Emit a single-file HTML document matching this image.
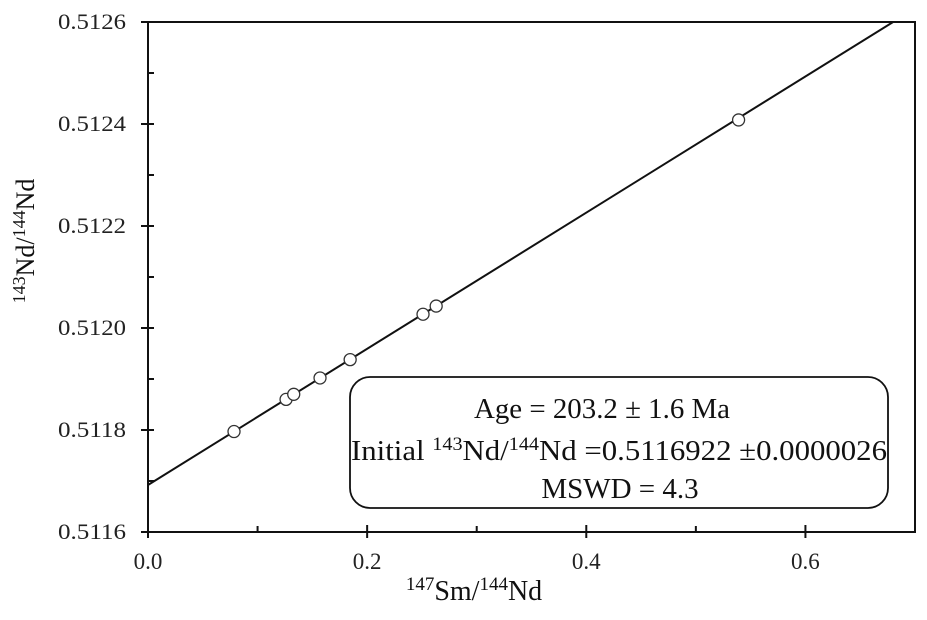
<!DOCTYPE html>
<html><head><meta charset="utf-8"><style>
html,body{margin:0;padding:0;background:#fff;}
svg{display:block;font-family:"Liberation Serif",serif;}
</style></head><body>
<svg id="chart" width="927" height="620" viewBox="0 0 927 620">
  <g id="axes"></g>
  <g id="marks"></g>
  <g>
    <rect x="350" y="377" width="538" height="131" rx="20" ry="20" fill="#fff" stroke="#111" stroke-width="1.8"/>
    <text x="602" y="418" font-size="29" text-anchor="middle" fill="#111" textLength="256" lengthAdjust="spacingAndGlyphs">Age = 203.2 ± 1.6 Ma</text>
    <text x="351" y="460" font-size="29" fill="#111" textLength="536" lengthAdjust="spacingAndGlyphs">Initial <tspan font-size="19" dy="-10">143</tspan><tspan dy="10">Nd/</tspan><tspan font-size="19" dy="-10">144</tspan><tspan dy="10">Nd =0.5116922 ±0.0000026</tspan></text>
    <text x="620" y="498" font-size="29" text-anchor="middle" fill="#111">MSWD = 4.3</text>
  </g>
  <text x="474" y="600" font-size="28" text-anchor="middle" fill="#111"><tspan font-size="19" dy="-10">147</tspan><tspan dy="10">Sm/</tspan><tspan font-size="19" dy="-10">144</tspan><tspan dy="10">Nd</tspan></text>
  <text transform="translate(34,241) rotate(-90)" font-size="26" text-anchor="middle" fill="#111"><tspan font-size="18" dy="-9">143</tspan><tspan dy="9">Nd/</tspan><tspan font-size="18" dy="-9">144</tspan><tspan dy="9">Nd</tspan></text>
</svg>
<script>
const xTicks = [0.0, 0.2, 0.4, 0.6];
const xTickLabels = ["0.0", "0.2", "0.4", "0.6"];
const yTicks = [0.5116, 0.5118, 0.5120, 0.5122, 0.5124, 0.5126];
const yTickLabels = ["0.5116", "0.5118", "0.5120", "0.5122", "0.5124", "0.5126"];
const smNd = [0.0785, 0.126, 0.133, 0.157, 0.1845, 0.251, 0.263, 0.539];
const ndNd = [0.511797, 0.511860, 0.511870, 0.511902, 0.511938, 0.512027, 0.512043, 0.512408];
const intercept = [0.5116922];
const slope = [0.001335];

const L=148, R=915, T=22, B=532;
const xMin=0, xMax=0.7, yMin=0.5116, yMax=0.5126;
const sx = v => L + (v - xMin) / (xMax - xMin) * (R - L);
const sy = v => B - (v - yMin) / (yMax - yMin) * (B - T);
const NS='http://www.w3.org/2000/svg';
const axes=document.getElementById('axes'), marks=document.getElementById('marks');
function mk(tag, attrs, parent){const e=document.createElementNS(NS,tag);for(const k in attrs)e.setAttribute(k,attrs[k]);parent.appendChild(e);return e;}

let frame = mk('rect',{x:L,y:T,width:R-L,height:B-T,fill:'none',stroke:'#111','stroke-width':2},axes);



yTicks.forEach((v,i)=>{
  const y=sy(v);
  let t=mk('line',{x1:L-7,x2:L+6,y1:y,y2:y,stroke:'#111','stroke-width':2},axes);
  
  
  let lb=mk('text',{x:L-22,y:y+7,'font-size':22,'text-anchor':'end',fill:'#222',textLength:68,lengthAdjust:'spacingAndGlyphs'},axes);
  lb.textContent=yTickLabels[i];
  
  
  if(i<yTicks.length-1){
    const ym=sy(v+(yTicks[1]-yTicks[0])/2);
    let m=mk('line',{x1:L,x2:L+6,y1:ym,y2:ym,stroke:'#111','stroke-width':2},axes);
    
    
  }
});
xTicks.forEach((v,i)=>{
  const x=sx(v);
  let t=mk('line',{x1:x,x2:x,y1:B-7,y2:B+6,stroke:'#111','stroke-width':2},axes);
  
  
  let lb=mk('text',{x:x,y:B+37,'font-size':23,'text-anchor':'middle',fill:'#222'},axes);
  lb.textContent=xTickLabels[i];
  
  
  const xm=sx(v+0.1);
  if(xm<R){
    let m=mk('line',{x1:xm,x2:xm,y1:B-6,y2:B,stroke:'#111','stroke-width':2},axes);
    
    
  }
});

const xEnd=(yMax-intercept[0])/slope[0];
let line=mk('line',{x1:sx(0),y1:sy(intercept[0]),x2:sx(Math.min(xEnd,xMax)),y2:sy(intercept[0]+slope[0]*Math.min(xEnd,xMax)),stroke:'#111','stroke-width':2},marks);



smNd.forEach((v,i)=>{
  let c=mk('circle',{cx:sx(v),cy:sy(ndNd[i]),r:6,fill:'#fff',stroke:'#333','stroke-width':1.3},marks);
  
  
});
</script>
</body></html>
